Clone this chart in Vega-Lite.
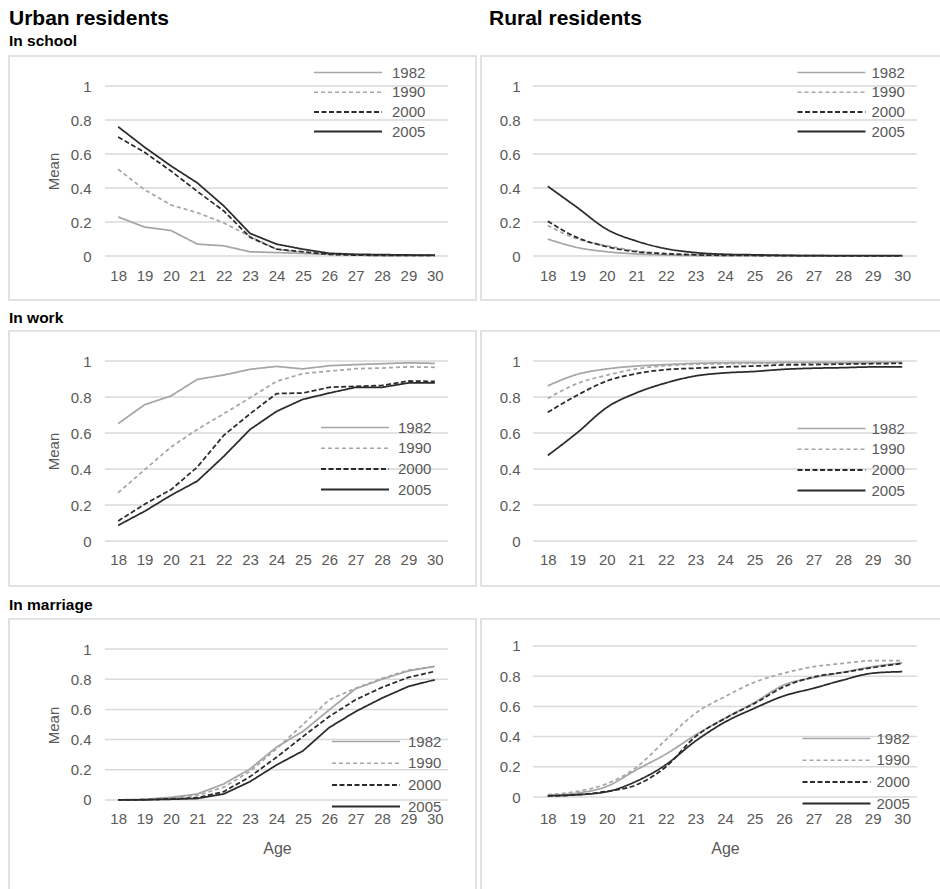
{
  "$schema": "https://vega.github.io/schema/vega-lite/v6.json",
  "padding": {"left": 8, "top": 8, "right": 0, "bottom": 0},
  "datasets": {
    "grid": [{"v": 0}, {"v": 0.2}, {"v": 0.4}, {"v": 0.6}, {"v": 0.8}, {"v": 1}],
    "main": [
      {"p":"US","a":18,"1982":0.23,"1990":0.51,"2000":0.70,"2005":0.76},
      {"p":"US","a":19,"1982":0.17,"1990":0.39,"2000":0.61,"2005":0.64},
      {"p":"US","a":20,"1982":0.15,"1990":0.30,"2000":0.50,"2005":0.53},
      {"p":"US","a":21,"1982":0.07,"1990":0.255,"2000":0.38,"2005":0.43},
      {"p":"US","a":22,"1982":0.06,"1990":0.195,"2000":0.265,"2005":0.295},
      {"p":"US","a":23,"1982":0.025,"1990":0.115,"2000":0.11,"2005":0.133},
      {"p":"US","a":24,"1982":0.02,"1990":0.04,"2000":0.04,"2005":0.07},
      {"p":"US","a":25,"1982":0.015,"1990":0.02,"2000":0.025,"2005":0.04},
      {"p":"US","a":26,"1982":0.01,"1990":0.01,"2000":0.01,"2005":0.016},
      {"p":"US","a":27,"1982":0.005,"1990":0.005,"2000":0.005,"2005":0.01},
      {"p":"US","a":28,"1982":0.003,"1990":0.004,"2000":0.004,"2005":0.008},
      {"p":"US","a":29,"1982":0.002,"1990":0.003,"2000":0.003,"2005":0.006},
      {"p":"US","a":30,"1982":0.002,"1990":0.002,"2000":0.003,"2005":0.005},
      {"p":"RS","a":18,"1982":0.10,"1990":0.18,"2000":0.205,"2005":0.41},
      {"p":"RS","a":19,"1982":0.05,"1990":0.10,"2000":0.108,"2005":0.285},
      {"p":"RS","a":20,"1982":0.025,"1990":0.06,"2000":0.055,"2005":0.157},
      {"p":"RS","a":21,"1982":0.012,"1990":0.03,"2000":0.025,"2005":0.088},
      {"p":"RS","a":22,"1982":0.006,"1990":0.015,"2000":0.013,"2005":0.043},
      {"p":"RS","a":23,"1982":0.003,"1990":0.01,"2000":0.007,"2005":0.02},
      {"p":"RS","a":24,"1982":0.002,"1990":0.006,"2000":0.004,"2005":0.01},
      {"p":"RS","a":25,"1982":0.002,"1990":0.004,"2000":0.003,"2005":0.007},
      {"p":"RS","a":26,"1982":0.001,"1990":0.003,"2000":0.002,"2005":0.004},
      {"p":"RS","a":27,"1982":0.001,"1990":0.002,"2000":0.002,"2005":0.002},
      {"p":"RS","a":28,"1982":0.001,"1990":0.001,"2000":0.001,"2005":0.002},
      {"p":"RS","a":29,"1982":0.001,"1990":0.001,"2000":0.001,"2005":0.002},
      {"p":"RS","a":30,"1982":0.001,"1990":0.001,"2000":0.001,"2005":0.002},
      {"p":"UW","a":18,"1982":0.652,"1990":0.268,"2000":0.111,"2005":0.087},
      {"p":"UW","a":19,"1982":0.757,"1990":0.396,"2000":0.204,"2005":0.165},
      {"p":"UW","a":20,"1982":0.806,"1990":0.522,"2000":0.285,"2005":0.254},
      {"p":"UW","a":21,"1982":0.898,"1990":0.62,"2000":0.411,"2005":0.333},
      {"p":"UW","a":22,"1982":0.922,"1990":0.707,"2000":0.587,"2005":0.47},
      {"p":"UW","a":23,"1982":0.954,"1990":0.796,"2000":0.707,"2005":0.62},
      {"p":"UW","a":24,"1982":0.970,"1990":0.887,"2000":0.819,"2005":0.72},
      {"p":"UW","a":25,"1982":0.956,"1990":0.93,"2000":0.822,"2005":0.787},
      {"p":"UW","a":26,"1982":0.974,"1990":0.944,"2000":0.854,"2005":0.822},
      {"p":"UW","a":27,"1982":0.98,"1990":0.957,"2000":0.859,"2005":0.854},
      {"p":"UW","a":28,"1982":0.985,"1990":0.961,"2000":0.864,"2005":0.854},
      {"p":"UW","a":29,"1982":0.99,"1990":0.968,"2000":0.889,"2005":0.878},
      {"p":"UW","a":30,"1982":0.987,"1990":0.965,"2000":0.887,"2005":0.878},
      {"p":"RW","a":18,"1982":0.862,"1990":0.792,"2000":0.715,"2005":0.475},
      {"p":"RW","a":19,"1982":0.926,"1990":0.875,"2000":0.81,"2005":0.602},
      {"p":"RW","a":20,"1982":0.956,"1990":0.921,"2000":0.889,"2005":0.742},
      {"p":"RW","a":21,"1982":0.972,"1990":0.956,"2000":0.93,"2005":0.823},
      {"p":"RW","a":22,"1982":0.98,"1990":0.974,"2000":0.952,"2005":0.878},
      {"p":"RW","a":23,"1982":0.987,"1990":0.982,"2000":0.96,"2005":0.917},
      {"p":"RW","a":24,"1982":0.99,"1990":0.985,"2000":0.967,"2005":0.934},
      {"p":"RW","a":25,"1982":0.991,"1990":0.987,"2000":0.972,"2005":0.942},
      {"p":"RW","a":26,"1982":0.992,"1990":0.988,"2000":0.978,"2005":0.954},
      {"p":"RW","a":27,"1982":0.993,"1990":0.989,"2000":0.98,"2005":0.96},
      {"p":"RW","a":28,"1982":0.993,"1990":0.99,"2000":0.983,"2005":0.963},
      {"p":"RW","a":29,"1982":0.994,"1990":0.99,"2000":0.985,"2005":0.967},
      {"p":"RW","a":30,"1982":0.994,"1990":0.99,"2000":0.987,"2005":0.967},
      {"p":"UM","a":18,"1982":0.001,"1990":0,"2000":0,"2005":0},
      {"p":"UM","a":19,"1982":0.004,"1990":0.003,"2000":0.002,"2005":0.001},
      {"p":"UM","a":20,"1982":0.018,"1990":0.013,"2000":0.008,"2005":0.005},
      {"p":"UM","a":21,"1982":0.04,"1990":0.03,"2000":0.015,"2005":0.01},
      {"p":"UM","a":22,"1982":0.106,"1990":0.085,"2000":0.055,"2005":0.04},
      {"p":"UM","a":23,"1982":0.206,"1990":0.19,"2000":0.155,"2005":0.122},
      {"p":"UM","a":24,"1982":0.35,"1990":0.34,"2000":0.283,"2005":0.232},
      {"p":"UM","a":25,"1982":0.454,"1990":0.50,"2000":0.42,"2005":0.325},
      {"p":"UM","a":26,"1982":0.597,"1990":0.664,"2000":0.553,"2005":0.48},
      {"p":"UM","a":27,"1982":0.737,"1990":0.74,"2000":0.664,"2005":0.586},
      {"p":"UM","a":28,"1982":0.80,"1990":0.805,"2000":0.746,"2005":0.675},
      {"p":"UM","a":29,"1982":0.855,"1990":0.86,"2000":0.812,"2005":0.752},
      {"p":"UM","a":30,"1982":0.885,"1990":0.885,"2000":0.852,"2005":0.796},
      {"p":"RM","a":18,"1982":0.011,"1990":0.015,"2000":0.007,"2005":0.008},
      {"p":"RM","a":19,"1982":0.026,"1990":0.037,"2000":0.015,"2005":0.015},
      {"p":"RM","a":20,"1982":0.07,"1990":0.088,"2000":0.037,"2005":0.035},
      {"p":"RM","a":21,"1982":0.18,"1990":0.196,"2000":0.08,"2005":0.104},
      {"p":"RM","a":22,"1982":0.284,"1990":0.379,"2000":0.2,"2005":0.214},
      {"p":"RM","a":23,"1982":0.41,"1990":0.555,"2000":0.40,"2005":0.37},
      {"p":"RM","a":24,"1982":0.522,"1990":0.665,"2000":0.52,"2005":0.496},
      {"p":"RM","a":25,"1982":0.626,"1990":0.76,"2000":0.62,"2005":0.588},
      {"p":"RM","a":26,"1982":0.742,"1990":0.82,"2000":0.73,"2005":0.67},
      {"p":"RM","a":27,"1982":0.79,"1990":0.863,"2000":0.795,"2005":0.72},
      {"p":"RM","a":28,"1982":0.826,"1990":0.885,"2000":0.825,"2005":0.775},
      {"p":"RM","a":29,"1982":0.863,"1990":0.903,"2000":0.857,"2005":0.82},
      {"p":"RM","a":30,"1982":0.888,"1990":0.903,"2000":0.885,"2005":0.83}
    ]
  },
  "config": {
    "font": "Liberation Sans",
    "view": {"stroke": "#d9d9d9", "strokeWidth": 1.5},
    "axis": {"grid": false, "domain": false, "ticks": false, "tickSize": 0, "labelFont": "Liberation Sans", "labelFontSize": 15, "labelColor": "#595959", "titleFont": "Liberation Sans", "titleFontSize": 15, "titleColor": "#595959", "titleFontWeight": "normal", "labelFlush": false, "labelOverlap": false},
    "legend": {"orient": "none", "padding": 0, "symbolType": "M-4,0L4,0", "symbolSize": 289, "symbolStrokeWidth": 1.75, "labelFont": "Liberation Sans", "labelFontSize": 15, "labelColor": "#595959"},
    "title": {"anchor": "start", "color": "#000000", "font": "Liberation Sans", "fontWeight": "bold", "frame": "group", "baseline": "alphabetic"},
    "line": {"strokeWidth": 1.75}
  },
  "hconcat": [
    {
      "title": {"text": "Urban residents", "fontSize": 21, "offset": 4},
      "spacing": 9,
      "resolve": {"scale": {"x": "independent", "y": "independent", "color": "independent", "strokeDash": "independent", "strokeWidth": "independent"}, "legend": {"color": "independent", "strokeDash": "independent"}},
      "vconcat": [
        {
          "width": 467, "height": 244,
          "title": {"text": "In school", "fontSize": 15.5, "offset": 6.5},
          "layer": [
            {"data": {"name": "grid"}, "mark": {"type": "rule", "color": "#d9d9d9", "strokeWidth": 1.5},
             "encoding": {"y": {"field": "v", "type": "quantitative", "scale": {"domain": [-0.2588, 1.1765], "nice": false, "zero": false}, "axis": {"values": [0,0.2,0.4,0.6,0.8,1], "format": "~g", "offset": -86, "labelPadding": 4, "title": "Mean", "titleX": -42, "titleY": 115, "titleAngle": -90, "titleAlign": "center", "titleBaseline": "middle"}},
                          "x": {"datum": 17.5, "type": "quantitative", "scale": {"domain": [13.862, 31.561], "nice": false, "zero": false}, "axis": {"values": [18,19,20,21,22,23,24,25,26,27,28,29,30], "format": "d", "offset": -44, "labelPadding": 19, "labelBaseline": "middle", "title": null}},
                          "x2": {"datum": 30.5}}},
            {"data": {"name": "main"}, "transform": [{"filter": "datum.p === 'US'"}, {"fold": ["1982", "1990", "2000", "2005"], "as": ["year", "v"]}],
             "mark": {"type": "line"},
             "encoding": {
               "x": {"field": "a", "type": "quantitative", "scale": {"domain": [13.862, 31.561], "nice": false, "zero": false}, "axis": {"values": [18,19,20,21,22,23,24,25,26,27,28,29,30], "format": "d", "offset": -44, "labelPadding": 19, "labelBaseline": "middle", "title": null}},
               "y": {"field": "v", "type": "quantitative", "scale": {"domain": [-0.2588, 1.1765], "nice": false, "zero": false}, "axis": {"values": [0,0.2,0.4,0.6,0.8,1], "format": "~g", "offset": -86, "labelPadding": 4, "title": "Mean", "titleX": -42, "titleY": 115, "titleAngle": -90, "titleAlign": "center", "titleBaseline": "middle"}},
               "color": {"field": "year", "type": "nominal", "scale": {"domain": ["1982", "1990", "2000", "2005"], "range": ["#a6a6a6", "#a6a6a6", "#2b2b2b", "#2b2b2b"]}, "legend": {"title": null, "legendX": 329.5, "legendY": 7, "labelOffset": 34.5, "rowPadding": 1.7}},
               "strokeDash": {"field": "year", "type": "nominal", "scale": {"domain": ["1982", "1990", "2000", "2005"], "range": [[1, 0], [4, 3], [5, 2.5], [1, 0]]}, "legend": {"title": null, "legendX": 329.5, "legendY": 7, "labelOffset": 34.5, "rowPadding": 1.7}},
               "strokeWidth": {"field": "year", "type": "ordinal", "scale": {"type": "ordinal", "domain": ["1982", "1990", "2000", "2005"], "range": [1.5, 1.5, 2, 2]}, "legend": null}
             }}
          ]
        },
        {
          "width": 467, "height": 255,
          "title": {"text": "In work", "fontSize": 15.5, "offset": 4.3},
          "layer": [
            {"data": {"name": "grid"}, "mark": {"type": "rule", "color": "#d9d9d9", "strokeWidth": 1.5},
             "encoding": {"y": {"field": "v", "type": "quantitative", "scale": {"domain": [-0.25, 1.1667], "nice": false, "zero": false}, "axis": {"values": [0,0.2,0.4,0.6,0.8,1], "format": "~g", "offset": -86, "labelPadding": 4, "title": "Mean", "titleX": -42, "titleY": 120, "titleAngle": -90, "titleAlign": "center", "titleBaseline": "middle"}},
                          "x": {"datum": 17.5, "type": "quantitative", "scale": {"domain": [13.862, 31.561], "nice": false, "zero": false}, "axis": {"values": [18,19,20,21,22,23,24,25,26,27,28,29,30], "format": "d", "offset": -45, "labelPadding": 18, "labelBaseline": "middle", "title": null}},
                          "x2": {"datum": 30.5}}},
            {"data": {"name": "main"}, "transform": [{"filter": "datum.p === 'UW'"}, {"fold": ["1982", "1990", "2000", "2005"], "as": ["year", "v"]}],
             "mark": {"type": "line"},
             "encoding": {
               "x": {"field": "a", "type": "quantitative", "scale": {"domain": [13.862, 31.561], "nice": false, "zero": false}, "axis": {"values": [18,19,20,21,22,23,24,25,26,27,28,29,30], "format": "d", "offset": -45, "labelPadding": 18, "labelBaseline": "middle", "title": null}},
               "y": {"field": "v", "type": "quantitative", "scale": {"domain": [-0.25, 1.1667], "nice": false, "zero": false}, "axis": {"values": [0,0.2,0.4,0.6,0.8,1], "format": "~g", "offset": -86, "labelPadding": 4, "title": "Mean", "titleX": -42, "titleY": 120, "titleAngle": -90, "titleAlign": "center", "titleBaseline": "middle"}},
               "color": {"field": "year", "type": "nominal", "scale": {"domain": ["1982", "1990", "2000", "2005"], "range": ["#a6a6a6", "#a6a6a6", "#2b2b2b", "#2b2b2b"]}, "legend": {"title": null, "legendX": 336.5, "legendY": 87, "labelOffset": 33.5, "rowPadding": 2.7}},
               "strokeDash": {"field": "year", "type": "nominal", "scale": {"domain": ["1982", "1990", "2000", "2005"], "range": [[1, 0], [4, 3], [5, 2.5], [1, 0]]}, "legend": {"title": null, "legendX": 336.5, "legendY": 87, "labelOffset": 33.5, "rowPadding": 2.7}},
               "strokeWidth": {"field": "year", "type": "ordinal", "scale": {"type": "ordinal", "domain": ["1982", "1990", "2000", "2005"], "range": [1.5, 1.5, 2, 2]}, "legend": null}
             }}
          ]
        },
        {
          "width": 467, "height": 290,
          "title": {"text": "In marriage", "fontSize": 15.5, "offset": 6},
          "layer": [
            {"data": {"name": "grid"}, "mark": {"type": "rule", "color": "#d9d9d9", "strokeWidth": 1.5},
             "encoding": {"y": {"field": "v", "type": "quantitative", "scale": {"domain": [-0.7219, 1.1987], "nice": false, "zero": false}, "axis": {"values": [0,0.2,0.4,0.6,0.8,1], "format": "~g", "offset": -86, "labelPadding": 4, "title": "Mean", "titleX": -42, "titleY": 106, "titleAngle": -90, "titleAlign": "center", "titleBaseline": "middle"}},
                          "x": {"datum": 17.5, "type": "quantitative", "scale": {"domain": [13.862, 31.561], "nice": false, "zero": false}, "axis": {"values": [18,19,20,21,22,23,24,25,26,27,28,29,30], "format": "d", "offset": -109, "labelPadding": 18, "labelBaseline": "middle", "title": "Age", "titleFontSize": 16, "titleX": 268, "titleY": 48, "titleBaseline": "middle", "titleAlign": "center"}},
                          "x2": {"datum": 30.5}}},
            {"data": {"name": "main"}, "transform": [{"filter": "datum.p === 'UM'"}, {"fold": ["1982", "1990", "2000", "2005"], "as": ["year", "v"]}],
             "mark": {"type": "line"},
             "encoding": {
               "x": {"field": "a", "type": "quantitative", "scale": {"domain": [13.862, 31.561], "nice": false, "zero": false}, "axis": {"values": [18,19,20,21,22,23,24,25,26,27,28,29,30], "format": "d", "offset": -109, "labelPadding": 18, "labelBaseline": "middle", "title": "Age", "titleFontSize": 16, "titleX": 268, "titleY": 48, "titleBaseline": "middle", "titleAlign": "center"}},
               "y": {"field": "v", "type": "quantitative", "scale": {"domain": [-0.7219, 1.1987], "nice": false, "zero": false}, "axis": {"values": [0,0.2,0.4,0.6,0.8,1], "format": "~g", "offset": -86, "labelPadding": 4, "title": "Mean", "titleX": -42, "titleY": 106, "titleAngle": -90, "titleAlign": "center", "titleBaseline": "middle"}},
               "color": {"field": "year", "type": "nominal", "scale": {"domain": ["1982", "1990", "2000", "2005"], "range": ["#a6a6a6", "#a6a6a6", "#2b2b2b", "#2b2b2b"]}, "legend": {"title": null, "legendX": 347.5, "legendY": 113, "labelOffset": 32.5, "rowPadding": 3.7}},
               "strokeDash": {"field": "year", "type": "nominal", "scale": {"domain": ["1982", "1990", "2000", "2005"], "range": [[1, 0], [4, 3], [5, 2.5], [1, 0]]}, "legend": {"title": null, "legendX": 347.5, "legendY": 113, "labelOffset": 32.5, "rowPadding": 3.7}},
               "strokeWidth": {"field": "year", "type": "ordinal", "scale": {"type": "ordinal", "domain": ["1982", "1990", "2000", "2005"], "range": [1.5, 1.5, 2, 2]}, "legend": null}
             }}
          ]
        }
      ]
    },
    {
      "title": {"text": "Rural residents", "fontSize": 21, "offset": 4, "dx": 8},
      "spacing": 9,
      "resolve": {"scale": {"x": "independent", "y": "independent", "color": "independent", "strokeDash": "independent", "strokeWidth": "independent"}, "legend": {"color": "independent", "strokeDash": "independent"}},
      "vconcat": [
        {
          "width": 467, "height": 244,
          "title": {"text": " ", "fontSize": 15.5, "offset": 6.5},
          "layer": [
            {"data": {"name": "grid"}, "mark": {"type": "rule", "color": "#d9d9d9", "strokeWidth": 1.5},
             "encoding": {"y": {"field": "v", "type": "quantitative", "scale": {"domain": [-0.2588, 1.1765], "nice": false, "zero": false}, "axis": {"values": [0,0.2,0.4,0.6,0.8,1], "format": "~g", "offset": -43, "labelPadding": 4, "title": null}},
                          "x": {"datum": 17.5, "type": "quantitative", "scale": {"domain": [15.74, 31.55], "nice": false, "zero": false}, "axis": {"values": [18,19,20,21,22,23,24,25,26,27,28,29,30], "format": "d", "offset": -44, "labelPadding": 19, "labelBaseline": "middle", "title": null}},
                          "x2": {"datum": 30.5}}},
            {"data": {"name": "main"}, "transform": [{"filter": "datum.p === 'RS'"}, {"fold": ["1982", "1990", "2000", "2005"], "as": ["year", "v"]}],
             "mark": {"type": "line", "interpolate": "monotone"},
             "encoding": {
               "x": {"field": "a", "type": "quantitative", "scale": {"domain": [15.74, 31.55], "nice": false, "zero": false}, "axis": {"values": [18,19,20,21,22,23,24,25,26,27,28,29,30], "format": "d", "offset": -44, "labelPadding": 19, "labelBaseline": "middle", "title": null}},
               "y": {"field": "v", "type": "quantitative", "scale": {"domain": [-0.2588, 1.1765], "nice": false, "zero": false}, "axis": {"values": [0,0.2,0.4,0.6,0.8,1], "format": "~g", "offset": -43, "labelPadding": 4, "title": null}},
               "color": {"field": "year", "type": "nominal", "scale": {"domain": ["1982", "1990", "2000", "2005"], "range": ["#a6a6a6", "#a6a6a6", "#2b2b2b", "#2b2b2b"]}, "legend": {"title": null, "legendX": 341, "legendY": 7, "labelOffset": 30.5, "rowPadding": 1.7}},
               "strokeDash": {"field": "year", "type": "nominal", "scale": {"domain": ["1982", "1990", "2000", "2005"], "range": [[1, 0], [4, 3], [5, 2.5], [1, 0]]}, "legend": {"title": null, "legendX": 341, "legendY": 7, "labelOffset": 30.5, "rowPadding": 1.7}},
               "strokeWidth": {"field": "year", "type": "ordinal", "scale": {"type": "ordinal", "domain": ["1982", "1990", "2000", "2005"], "range": [1.5, 1.5, 2, 2]}, "legend": null}
             }}
          ]
        },
        {
          "width": 467, "height": 255,
          "title": {"text": " ", "fontSize": 15.5, "offset": 4.3},
          "layer": [
            {"data": {"name": "grid"}, "mark": {"type": "rule", "color": "#d9d9d9", "strokeWidth": 1.5},
             "encoding": {"y": {"field": "v", "type": "quantitative", "scale": {"domain": [-0.25, 1.1667], "nice": false, "zero": false}, "axis": {"values": [0,0.2,0.4,0.6,0.8,1], "format": "~g", "offset": -43, "labelPadding": 4, "title": null}},
                          "x": {"datum": 17.5, "type": "quantitative", "scale": {"domain": [15.74, 31.55], "nice": false, "zero": false}, "axis": {"values": [18,19,20,21,22,23,24,25,26,27,28,29,30], "format": "d", "offset": -45, "labelPadding": 18, "labelBaseline": "middle", "title": null}},
                          "x2": {"datum": 30.5}}},
            {"data": {"name": "main"}, "transform": [{"filter": "datum.p === 'RW'"}, {"fold": ["1982", "1990", "2000", "2005"], "as": ["year", "v"]}],
             "mark": {"type": "line", "interpolate": "monotone"},
             "encoding": {
               "x": {"field": "a", "type": "quantitative", "scale": {"domain": [15.74, 31.55], "nice": false, "zero": false}, "axis": {"values": [18,19,20,21,22,23,24,25,26,27,28,29,30], "format": "d", "offset": -45, "labelPadding": 18, "labelBaseline": "middle", "title": null}},
               "y": {"field": "v", "type": "quantitative", "scale": {"domain": [-0.25, 1.1667], "nice": false, "zero": false}, "axis": {"values": [0,0.2,0.4,0.6,0.8,1], "format": "~g", "offset": -43, "labelPadding": 4, "title": null}},
               "color": {"field": "year", "type": "nominal", "scale": {"domain": ["1982", "1990", "2000", "2005"], "range": ["#a6a6a6", "#a6a6a6", "#2b2b2b", "#2b2b2b"]}, "legend": {"title": null, "legendX": 341, "legendY": 88, "labelOffset": 30.5, "rowPadding": 2.7}},
               "strokeDash": {"field": "year", "type": "nominal", "scale": {"domain": ["1982", "1990", "2000", "2005"], "range": [[1, 0], [4, 3], [5, 2.5], [1, 0]]}, "legend": {"title": null, "legendX": 341, "legendY": 88, "labelOffset": 30.5, "rowPadding": 2.7}},
               "strokeWidth": {"field": "year", "type": "ordinal", "scale": {"type": "ordinal", "domain": ["1982", "1990", "2000", "2005"], "range": [1.5, 1.5, 2, 2]}, "legend": null}
             }}
          ]
        },
        {
          "width": 467, "height": 290,
          "title": {"text": " ", "fontSize": 15.5, "offset": 6},
          "layer": [
            {"data": {"name": "grid"}, "mark": {"type": "rule", "color": "#d9d9d9", "strokeWidth": 1.5},
             "encoding": {"y": {"field": "v", "type": "quantitative", "scale": {"domain": [-0.7417, 1.1788], "nice": false, "zero": false}, "axis": {"values": [0,0.2,0.4,0.6,0.8,1], "format": "~g", "offset": -43, "labelPadding": 4, "title": null}},
                          "x": {"datum": 17.5, "type": "quantitative", "scale": {"domain": [15.74, 31.55], "nice": false, "zero": false}, "axis": {"values": [18,19,20,21,22,23,24,25,26,27,28,29,30], "format": "d", "offset": -112, "labelPadding": 21, "labelBaseline": "middle", "title": "Age", "titleFontSize": 16, "titleX": 244, "titleY": 51, "titleBaseline": "middle", "titleAlign": "center"}},
                          "x2": {"datum": 30.5}}},
            {"data": {"name": "main"}, "transform": [{"filter": "datum.p === 'RM'"}, {"fold": ["1982", "1990", "2000", "2005"], "as": ["year", "v"]}],
             "mark": {"type": "line", "interpolate": "monotone"},
             "encoding": {
               "x": {"field": "a", "type": "quantitative", "scale": {"domain": [15.74, 31.55], "nice": false, "zero": false}, "axis": {"values": [18,19,20,21,22,23,24,25,26,27,28,29,30], "format": "d", "offset": -112, "labelPadding": 21, "labelBaseline": "middle", "title": "Age", "titleFontSize": 16, "titleX": 244, "titleY": 51, "titleBaseline": "middle", "titleAlign": "center"}},
               "y": {"field": "v", "type": "quantitative", "scale": {"domain": [-0.7417, 1.1788], "nice": false, "zero": false}, "axis": {"values": [0,0.2,0.4,0.6,0.8,1], "format": "~g", "offset": -43, "labelPadding": 4, "title": null}},
               "color": {"field": "year", "type": "nominal", "scale": {"domain": ["1982", "1990", "2000", "2005"], "range": ["#a6a6a6", "#a6a6a6", "#2b2b2b", "#2b2b2b"]}, "legend": {"title": null, "legendX": 346, "legendY": 110, "labelOffset": 30.5, "rowPadding": 3.7}},
               "strokeDash": {"field": "year", "type": "nominal", "scale": {"domain": ["1982", "1990", "2000", "2005"], "range": [[1, 0], [4, 3], [5, 2.5], [1, 0]]}, "legend": {"title": null, "legendX": 346, "legendY": 110, "labelOffset": 30.5, "rowPadding": 3.7}},
               "strokeWidth": {"field": "year", "type": "ordinal", "scale": {"type": "ordinal", "domain": ["1982", "1990", "2000", "2005"], "range": [1.5, 1.5, 2, 2]}, "legend": null}
             }}
          ]
        }
      ]
    }
  ],
  "spacing": 3,
  "resolve": {"scale": {"x": "independent", "y": "independent", "color": "independent", "strokeDash": "independent", "strokeWidth": "independent"}, "legend": {"color": "independent", "strokeDash": "independent"}}
}
